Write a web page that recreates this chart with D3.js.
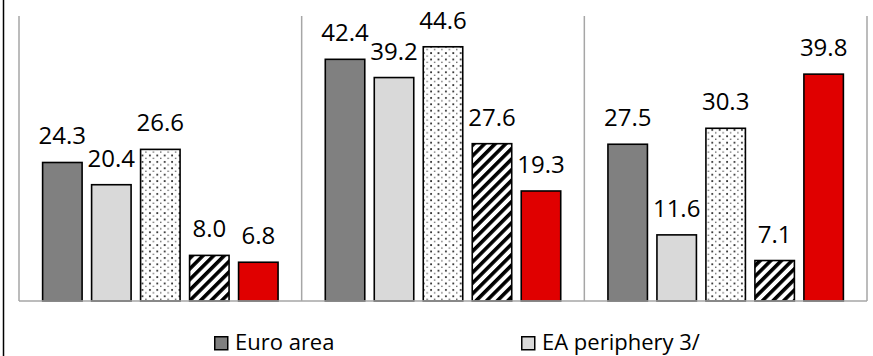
<!DOCTYPE html>
<html>
<head>
<meta charset="utf-8">
<script src="https://cdn.jsdelivr.net/npm/d3@7"></script>
<style>
  html, body { margin: 0; padding: 0; background: #fff; }
  svg { display: block; }
  text { font-family: "Open Sans", "Noto Sans", sans-serif; fill: #000; }
</style>
</head>
<body>
<svg id="chart" width="873" height="356"></svg>
<script>
// Three panels, five bars each
const groups = ["Panel 1", "Panel 2", "Panel 3"];
const seriesNames = ["Euro area", "EA periphery 3/", "Series 3", "Series 4", "Series 5"];
const euroArea     = [24.3, 42.4, 27.5];
const eaPeriphery  = [20.4, 39.2, 11.6];
const series3      = [26.6, 44.6, 30.3];
const series4      = [8.0, 27.6, 7.1];
const series5      = [6.8, 19.3, 39.8];
const seriesValues = [euroArea, eaPeriphery, series3, series4, series5];
const legendItems = ["Euro area", "EA periphery 3/"];
const yMax = 50;

const svg = d3.select("#chart");

// Fill patterns
const defs = svg.append("defs");
const dots = defs.append("pattern")
  .attr("id", "dots").attr("patternUnits", "userSpaceOnUse")
  .attr("width", 7.4).attr("height", 6.4);
dots.append("rect").attr("width", 7.4).attr("height", 6.4).attr("fill", "#fff");
dots.append("rect").attr("x", 1).attr("y", 1).attr("width", 1.8).attr("height", 1.8).attr("fill", "#333");
dots.append("rect").attr("x", 4.7).attr("y", 4.2).attr("width", 1.3).attr("height", 1.3).attr("fill", "#555");

const hatch = defs.append("pattern")
  .attr("id", "hatch").attr("patternUnits", "userSpaceOnUse")
  .attr("width", 7.5).attr("height", 7.5)
  .attr("patternTransform", "rotate(45)");
hatch.append("rect").attr("width", 7.5).attr("height", 7.5).attr("fill", "#fff");
hatch.append("rect").attr("x", 0).attr("y", 0).attr("width", 3.6).attr("height", 7.5).attr("fill", "#000");

const fills = ["#808080", "#d9d9d9", "url(#dots)", "url(#hatch)", "#e00000"];

const plotLeft = 19, plotRight = 867, plotTop = 16, baseY = 301;

const x0 = d3.scaleBand().domain(groups).range([plotLeft, plotRight]).padding(0);
const x1 = d3.scaleBand().domain(d3.range(seriesNames.length))
  .range([0, x0.bandwidth()]).paddingInner(0.194).paddingOuter(0.482);
const y = d3.scaleLinear().domain([0, yMax]).range([baseY, plotTop]);

// Frame edge on the left
svg.append("line")
  .attr("x1", 3.5).attr("x2", 3.5).attr("y1", 0).attr("y2", 356)
  .attr("stroke", "#000").attr("stroke-width", 1.5);

// Panel dividers
const edges = groups.map(g => x0(g)).concat([plotRight]);
svg.selectAll("line.div").data(edges).join("line")
  .attr("class", "div")
  .attr("x1", d => d).attr("x2", d => d)
  .attr("y1", plotTop).attr("y2", baseY)
  .attr("stroke", "#a6a6a6").attr("stroke-width", 1.5);

// Bars
const rows = [];
groups.forEach((g, gi) => {
  seriesValues.forEach((vals, si) => rows.push({ g, si, v: vals[gi] }));
});

const bars = svg.append("g");
bars.selectAll("rect").data(rows).join("rect")
  .attr("x", d => x0(d.g) + x1(d.si))
  .attr("y", d => y(d.v))
  .attr("width", x1.bandwidth())
  .attr("height", d => baseY - y(d.v))
  .attr("fill", d => fills[d.si])
  .attr("stroke", "#000").attr("stroke-width", 1.6);

// Value labels
const fmt = d3.format(".1f");
svg.append("g").selectAll("text").data(rows).join("text")
  .attr("x", d => x0(d.g) + x1(d.si) + x1.bandwidth() / 2)
  .attr("y", d => y(d.v) - 18)
  .attr("text-anchor", "middle")
  .attr("font-size", 24)
  .text(d => fmt(d.v));

// Category baseline
svg.append("line")
  .attr("x1", plotLeft).attr("x2", plotRight)
  .attr("y1", baseY).attr("y2", baseY)
  .attr("stroke", "#a6a6a6").attr("stroke-width", 1.5);

// Legend
const legendX = [214, 521];
const lg = svg.append("g").selectAll("g").data(legendItems).join("g")
  .attr("transform", (d, i) => `translate(${legendX[i]},336)`);
lg.append("rect")
  .attr("x", 0.75).attr("y", 0.75).attr("width", 13).attr("height", 13)
  .attr("fill", (d, i) => fills[i]).attr("stroke", "#000").attr("stroke-width", 1.5);
lg.append("text")
  .attr("x", 21).attr("y", 13.5)
  .attr("font-size", 22)
  .text(d => d);
</script>
</body>
</html>
